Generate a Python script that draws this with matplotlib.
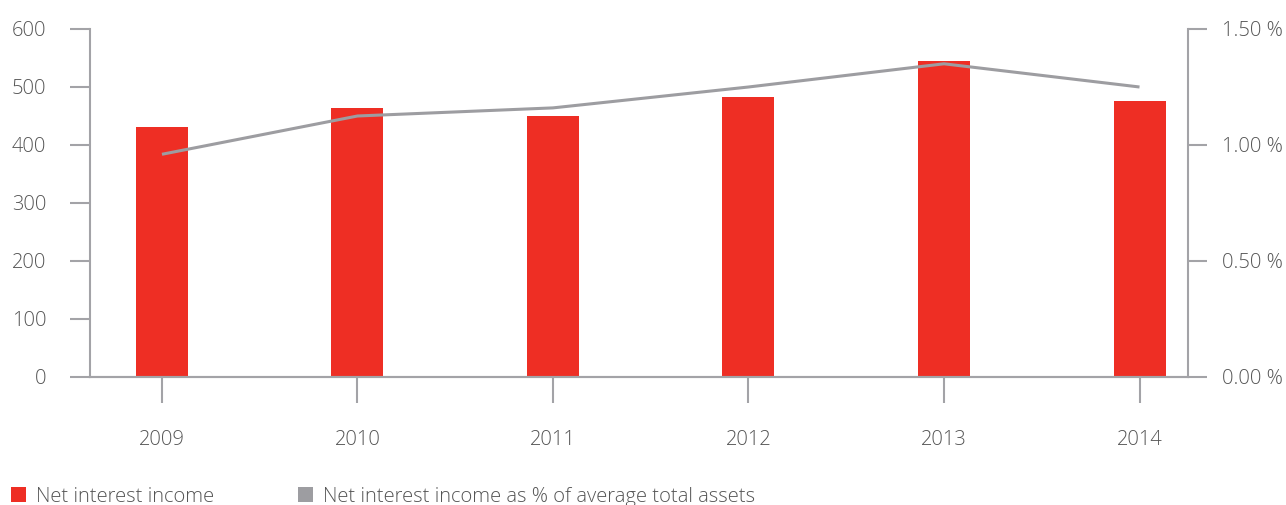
import matplotlib
matplotlib.use("Agg")
import matplotlib.pyplot as plt
from matplotlib.patches import Patch
import numpy as np

years = ["2009", "2010", "2011", "2012", "2013", "2014"]
net_interest_income = [431, 464, 450, 483, 545, 476]
nii_pct_assets = [0.96, 1.125, 1.16, 1.25, 1.35, 1.25]
left_ticks = [0, 100, 200, 300, 400, 500, 600]
right_ticks = [0.0, 0.5, 1.0, 1.5]

RED = "#EE2E24"
GRAY = "#9D9DA1"
AXC = "#A3A3A7"
TXT = "#555555"

plt.rcParams['font.family'] = ['Open Sans', 'DejaVu Sans']

fig = plt.figure(figsize=(12.86, 5.05), dpi=100)
ax = fig.add_axes([90/1286, 1-377/505, (1188-90)/1286, (377-29)/505])
x = np.arange(len(years))
ax.bar(x, net_interest_income, width=0.266, color=RED, zorder=2)
ax.set_xlim(-0.368, 5.248)
ax.set_ylim(0, 600)
ax.set_yticks(left_ticks)
ax.set_yticklabels([str(t) for t in left_ticks])
ax.set_xticks(x)
ax.set_xticklabels(years)

ax2 = ax.twinx()
ax2.plot(x, nii_pct_assets, color=GRAY, lw=2.2, solid_capstyle='butt', zorder=3)
ax2.set_ylim(0, 1.5)
ax2.set_yticks(right_ticks)
ax2.set_yticklabels([f"{t:.2f} %" for t in right_ticks])

for a in (ax, ax2):
    for s in a.spines.values():
        s.set_color(AXC)
        s.set_linewidth(1.5)
    a.spines['top'].set_visible(False)
ax.spines['right'].set_visible(False)
ax2.spines['left'].set_visible(False)

FS = 14.5
ax.tick_params(axis='y', length=14.5, width=1.5, color=AXC, pad=17, labelsize=FS, labelcolor=TXT)
ax.tick_params(axis='x', length=18.5, width=1.5, color=AXC, pad=20, labelsize=FS, labelcolor=TXT)
ax2.tick_params(axis='y', length=14, width=1.5, color=AXC, pad=10.5, labelsize=FS, labelcolor=TXT)
for lab in ax.get_yticklabels() + ax.get_xticklabels() + ax2.get_yticklabels():
    lab.set_fontweight('light')

handles = [Patch(facecolor=RED, edgecolor='none'), Patch(facecolor=GRAY, edgecolor='none')]
leg = fig.legend(handles, ["Net interest income", "Net interest income as % of average total assets"],
                 loc='lower left', bbox_to_anchor=(0.002, -0.019), ncol=2, frameon=False,
                 fontsize=FS, handlelength=0.75, handleheight=0.75, handletextpad=0.5,
                 columnspacing=4.15, borderaxespad=0.0)
for t in leg.get_texts():
    t.set_color(TXT)
    t.set_fontweight('light')

fig.savefig("out.png", dpi=100)
